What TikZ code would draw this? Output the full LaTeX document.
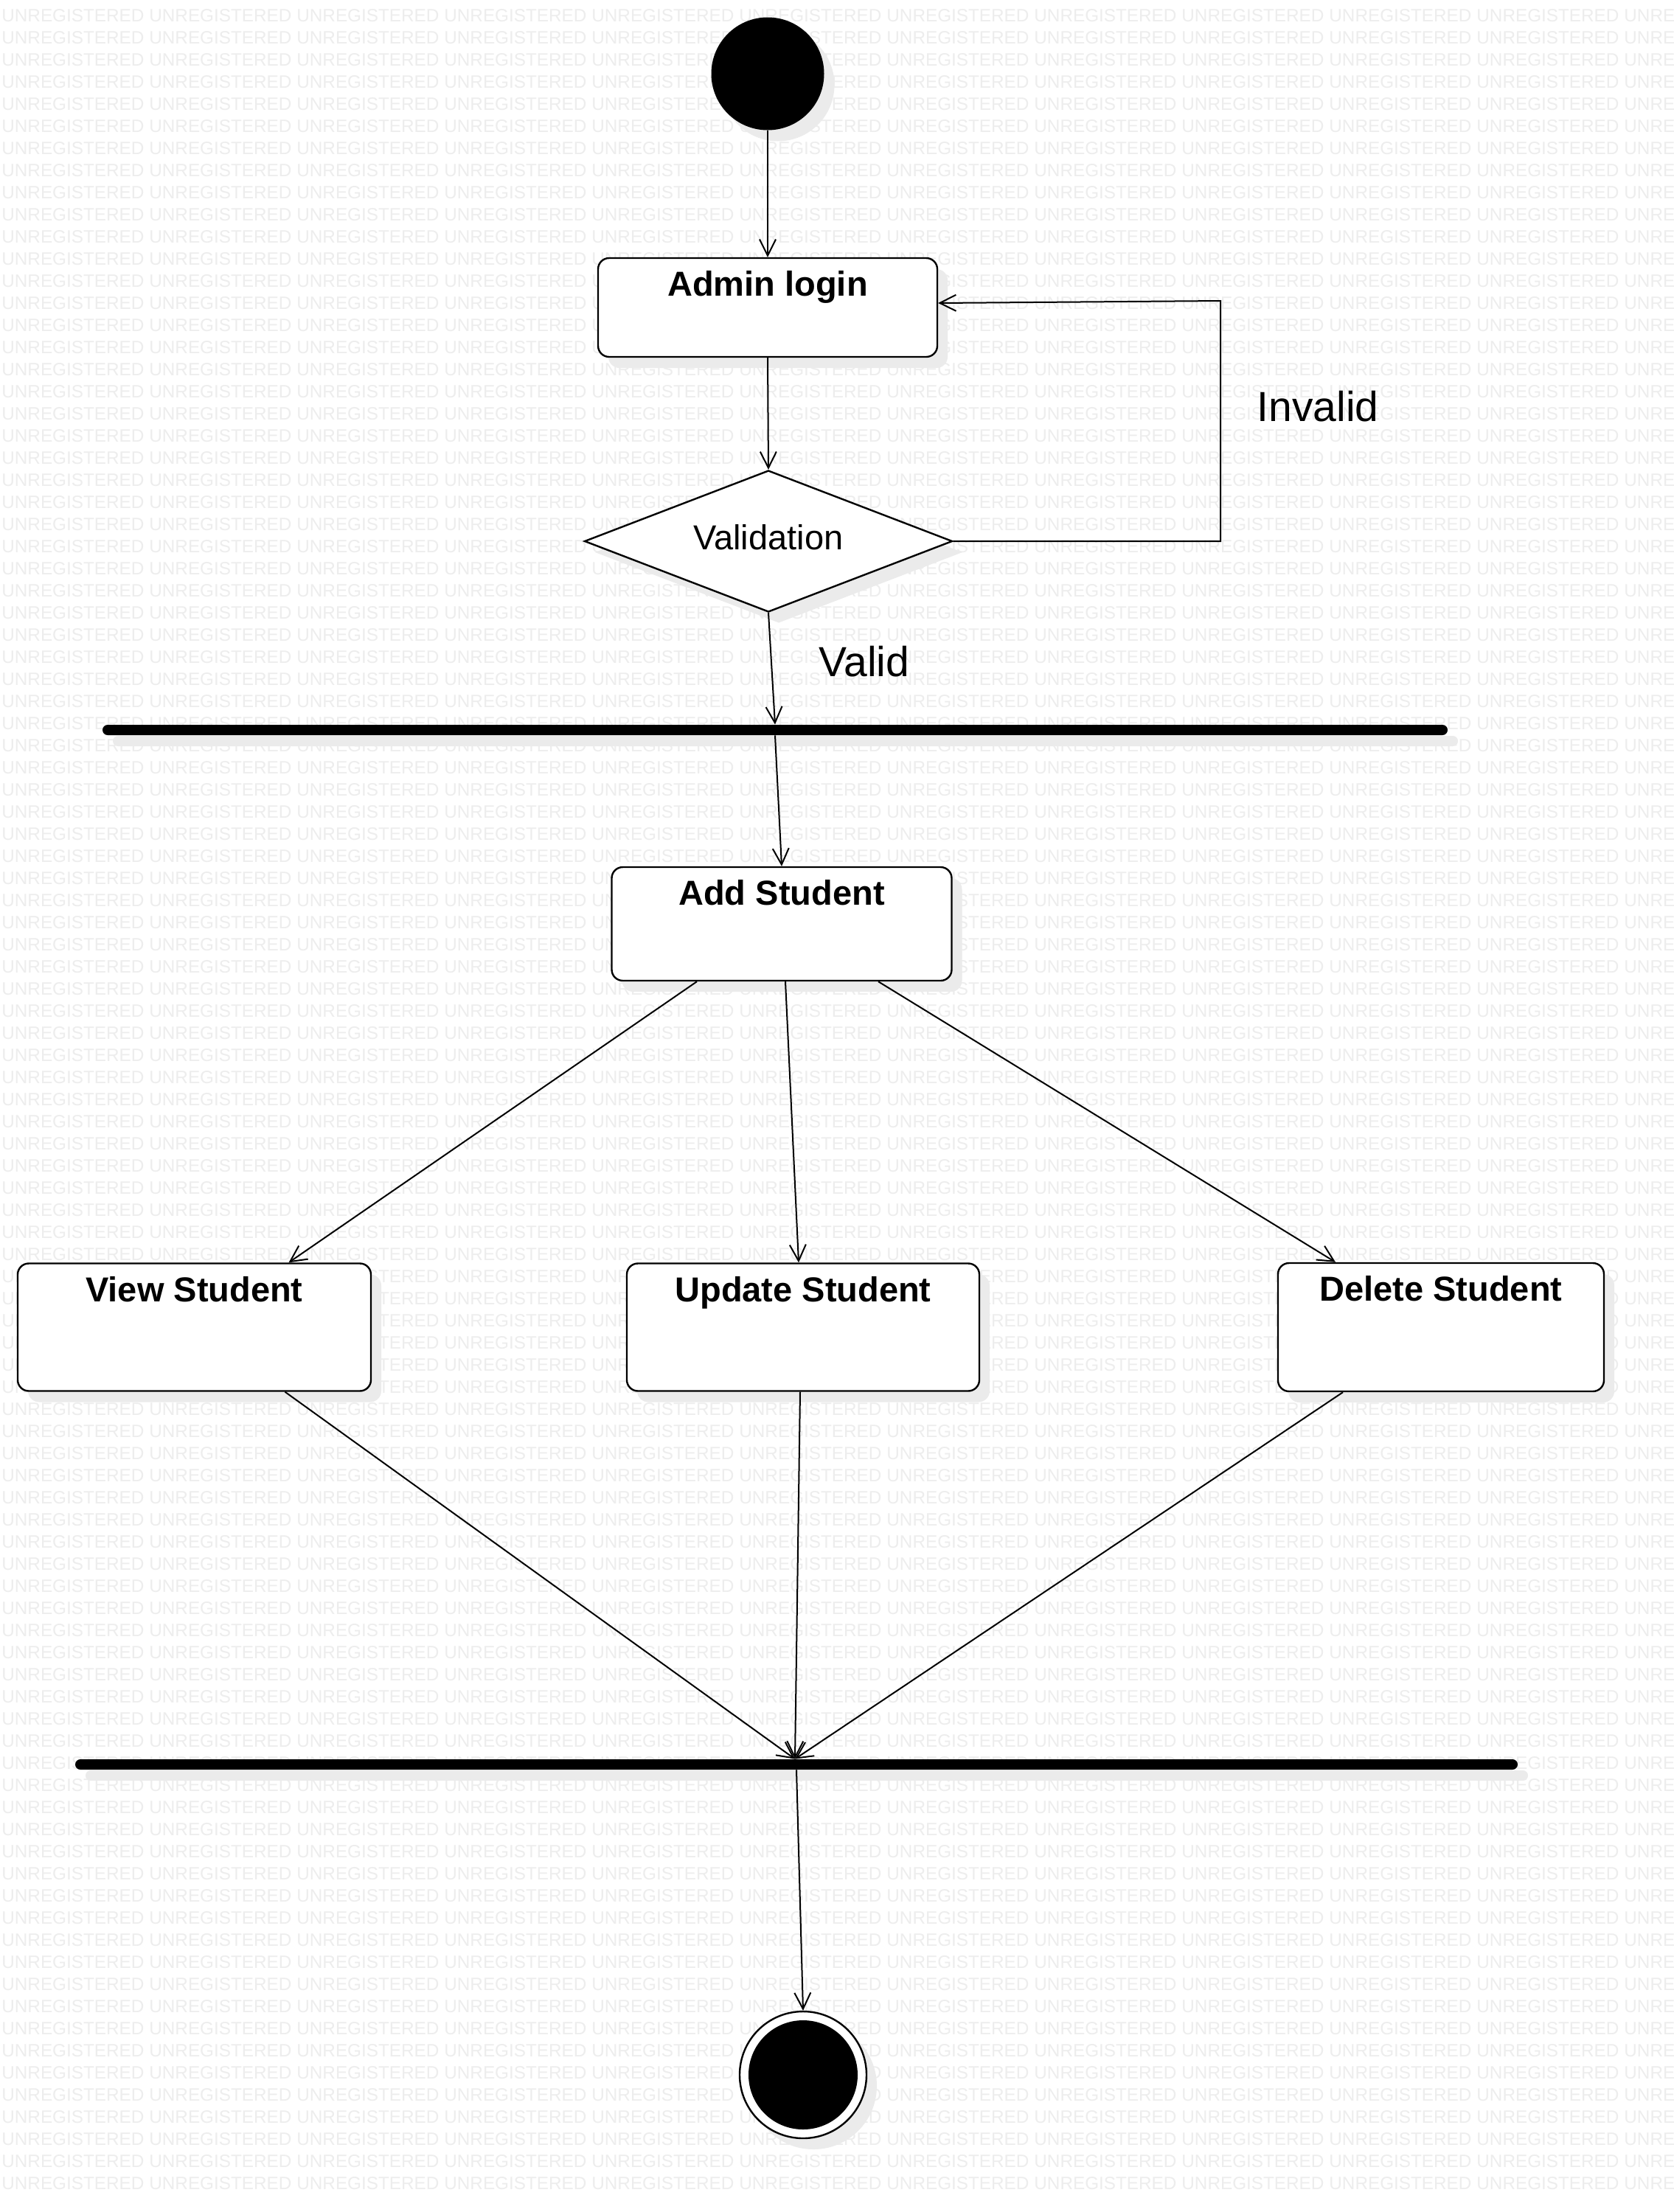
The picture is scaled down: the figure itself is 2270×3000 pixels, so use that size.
\documentclass[tikz,border=0pt]{standalone}
\usepackage{fontspec}
\setmainfont{Liberation Sans}
\usetikzlibrary{arrows.meta,shapes.geometric,shadows,calc}

\begin{document}
\begin{tikzpicture}[x=0.5pt,y=-0.5pt,
  watermark/.style={anchor=base west, inner sep=0, text=black!7,
    font=\fontsize{12.15pt}{12.15pt}\selectfont},
  castshadow/.style={drop shadow={shadow xshift=7pt,shadow yshift=-7.5pt,
    fill=black!8,opacity=1}},
  activity/.style={draw, line width=1.2pt, rounded corners=7.5pt, fill=white,
    inner sep=0, castshadow},
  actlabel/.style={font=\bfseries\fontsize{23.5pt}{28pt}\selectfont, inner sep=0,
    anchor=base},
  guard/.style={font=\fontsize{28.5pt}{34pt}\selectfont, inner sep=0},
  syncbar/.style={fill=black, rounded corners=3.5pt, inner sep=0,
    minimum height=7pt, castshadow},
  arr/.style={line width=1pt, -{Straight Barb[length=11pt,width=11pt]}}
]

% canvas
\useasboundingbox (0,0) rectangle (2270,3000);
\fill[white] (0,0) rectangle (2270,3000);

% background stamp
\begin{scope}
  \clip (0,0) rectangle (2270,3000);
  \foreach \r in {0,...,98}{
    \foreach \c in {0,...,11}{
      \node[watermark] (wm-\r-\c) at ({2+200*\c},{29+30*\r}) {UNREGISTERED};
    }
  }
\end{scope}

% initial node
\node[circle, fill=black, minimum size=76.5pt, inner sep=0, castshadow] (start) at (1041,100) {};

% login and validation
\node[activity, minimum width=230pt, minimum height=67pt] (admin) at (1041,417) {};
\node[actlabel] (adminT) at ($(admin.north)+(0,53)$) {Admin login};

\node[diamond, aspect=2.6, draw, line width=1.2pt, fill=white, inner sep=0,
      minimum width=249.5pt, minimum height=96pt, castshadow] (check) at (1042,734) {};
\node[anchor=base, inner sep=0, font=\fontsize{23.5pt}{28pt}\selectfont]
      (checkT) at ($(check.center)+(0,11)$) {Validation};

\node[guard] (invalidT) at (1787,551) {Invalid};
\node[guard] (validT) at (1172,897) {Valid};

% fork bar
\node[syncbar, minimum width=912pt] (fork) at (1051,990) {};

% student actions
\node[activity, minimum width=230.5pt, minimum height=77pt] (add) at (1060,1253) {};
\node[actlabel] (addT) at ($(add.north)+(0,53)$) {Add Student};

\node[activity, minimum width=239.5pt, minimum height=86.5pt] (view) at (263.5,1800) {};
\node[actlabel] (viewT) at ($(view.north)+(0,53)$) {View Student};

\node[activity, minimum width=239pt, minimum height=86.5pt] (update) at (1089,1800) {};
\node[actlabel] (updateT) at ($(update.north)+(0,53)$) {Update Student};

\node[activity, minimum width=221pt, minimum height=87pt] (delete) at (1954,1800) {};
\node[actlabel] (deleteT) at ($(delete.north)+(0,53)$) {Delete Student};

% join bar
\node[syncbar, minimum width=978pt] (join) at (1080,2393) {};

% final node
\node[circle, draw, line width=1.2pt, fill=white, minimum size=86pt, inner sep=0,
      castshadow] (final) at (1089,2814) {};
\node[circle, fill=black, minimum size=74pt, inner sep=0] (finalDot) at (final.center) {};

% connectors
\draw[arr] (start.south) -- (admin.north);
\draw[arr] (admin.south) -- (check.north);

\coordinate (loopT) at (1655,408);
\draw[arr] (check.east) -| (loopT) -- ($(admin.east)+(0,-6)$);

\draw[arr] (check.south) -- (fork.north);
\draw[arr] (fork.south) -- (add.north);

\draw[arr] ($(add.south)+(-115,0)$) -- ($(view.north)+(128,0)$);
\draw[arr] ($(add.south)+(5,0)$) -- ($(update.north)+(-6,0)$);
\draw[arr] ($(add.south)+(131,0)$) -- ($(delete.north)+(-143,0)$);

\draw[arr] ($(view.south)+(123,0)$) -- ($(join.north)+(-2,0)$);
\draw[arr] ($(update.south)+(-4,0)$) -- ($(join.north)+(-2,0)$);
\draw[arr] ($(delete.south)+(-133,0)$) -- ($(join.north)+(-2,0)$);

\draw[arr] (join.south) -- (final.north);

\end{tikzpicture}
\end{document}
